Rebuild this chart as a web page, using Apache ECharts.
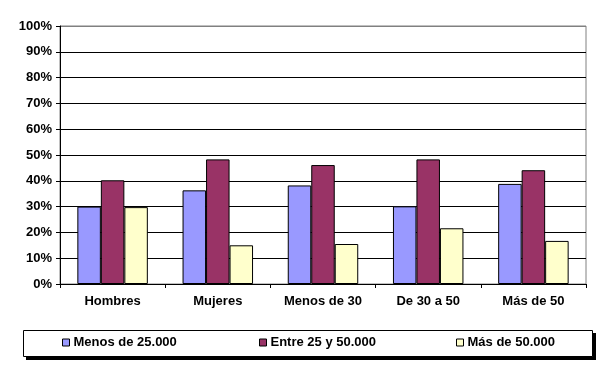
<!DOCTYPE html>
<html>
<head>
<meta charset="utf-8">
<script src="https://cdn.jsdelivr.net/npm/echarts@6/dist/echarts.min.js"></script>
<style>html,body{margin:0;padding:0;background:#fff}#c{width:600px;height:374px}</style>
</head>
<body>
<div id="c"></div>
<script>
var categories = ['Hombres', 'Mujeres', 'Menos de 30', 'De 30 a 50', 'Más de 50'];
var seriesNames = ['Menos de 25.000', 'Entre 25 y 50.000', 'Más de 50.000'];
var menos25 = [30, 36.3, 38.2, 30.1, 38.8];
var entre25y50 = [40.2, 48.3, 46.1, 48.3, 44.1];
var mas50 = [29.8, 15, 15.5, 21.6, 16.7];
var yTicks = [0, 10, 20, 30, 40, 50, 60, 70, 80, 90, 100];

var colors = ['#9999FF', '#993366', '#FFFFCC'];
var font = 'Arial, "Liberation Sans", sans-serif';
var chart = echarts.init(document.getElementById('c'));
var dataSets = [menos25, entre25y50, mas50];
var splitColors = yTicks.map(function (v, i) { return i === yTicks.length - 1 ? '#808080' : '#000'; });
var legendLefts = [62, 259, 456];
chart.setOption({
  animation: false,
  grid: { left: 60, right: 14, top: 26, bottom: 90, show: true, borderColor: '#808080', borderWidth: 1, backgroundColor: '#fff' },
  xAxis: {
    type: 'category', data: categories,
    axisLine: { lineStyle: { color: '#000', width: 1 } },
    axisTick: { show: true, length: 4, lineStyle: { color: '#000' } },
    axisLabel: { color: '#000', fontWeight: 'bold', fontSize: 13, fontFamily: font, margin: 11 }
  },
  yAxis: {
    type: 'value', min: 0, max: 100, interval: 10,
    axisLine: { show: true, lineStyle: { color: '#000', width: 1 } },
    axisTick: { show: true, length: 4, lineStyle: { color: '#000' } },
    axisLabel: { color: '#000', fontWeight: 'bold', fontSize: 13, fontFamily: font, margin: 8, formatter: '{value}%' },
    splitLine: { show: true, lineStyle: { color: splitColors, width: 1 } }
  },
  legend: seriesNames.map(function (n, i) {
    return {
      data: [n], left: legendLefts[i], top: 336, itemWidth: 7, itemHeight: 7, itemGap: 4, padding: 0,
      icon: 'rect',
      itemStyle: { borderColor: '#000', borderWidth: 1 },
      textStyle: { color: '#000', fontWeight: 'bold', fontSize: 13, fontFamily: font, padding: [0, 0, 0, -1] },
      selectedMode: false
    };
  }),
  graphic: [
    { type: 'rect', z: 0, shape: { x: 26, y: 333, width: 570, height: 27 }, style: { fill: '#000' } },
    { type: 'rect', z: 1, shape: { x: 23.5, y: 330.5, width: 569, height: 26 }, style: { fill: '#fff', stroke: '#000', lineWidth: 1 } }
  ],
  series: seriesNames.map(function (n, i) {
    return {
      name: n, type: 'bar', data: dataSets[i], barGap: '0%', barCategoryGap: '33%',
      itemStyle: { color: colors[i], borderColor: '#000', borderWidth: 1 }
    };
  })
});
</script>
</body>
</html>
